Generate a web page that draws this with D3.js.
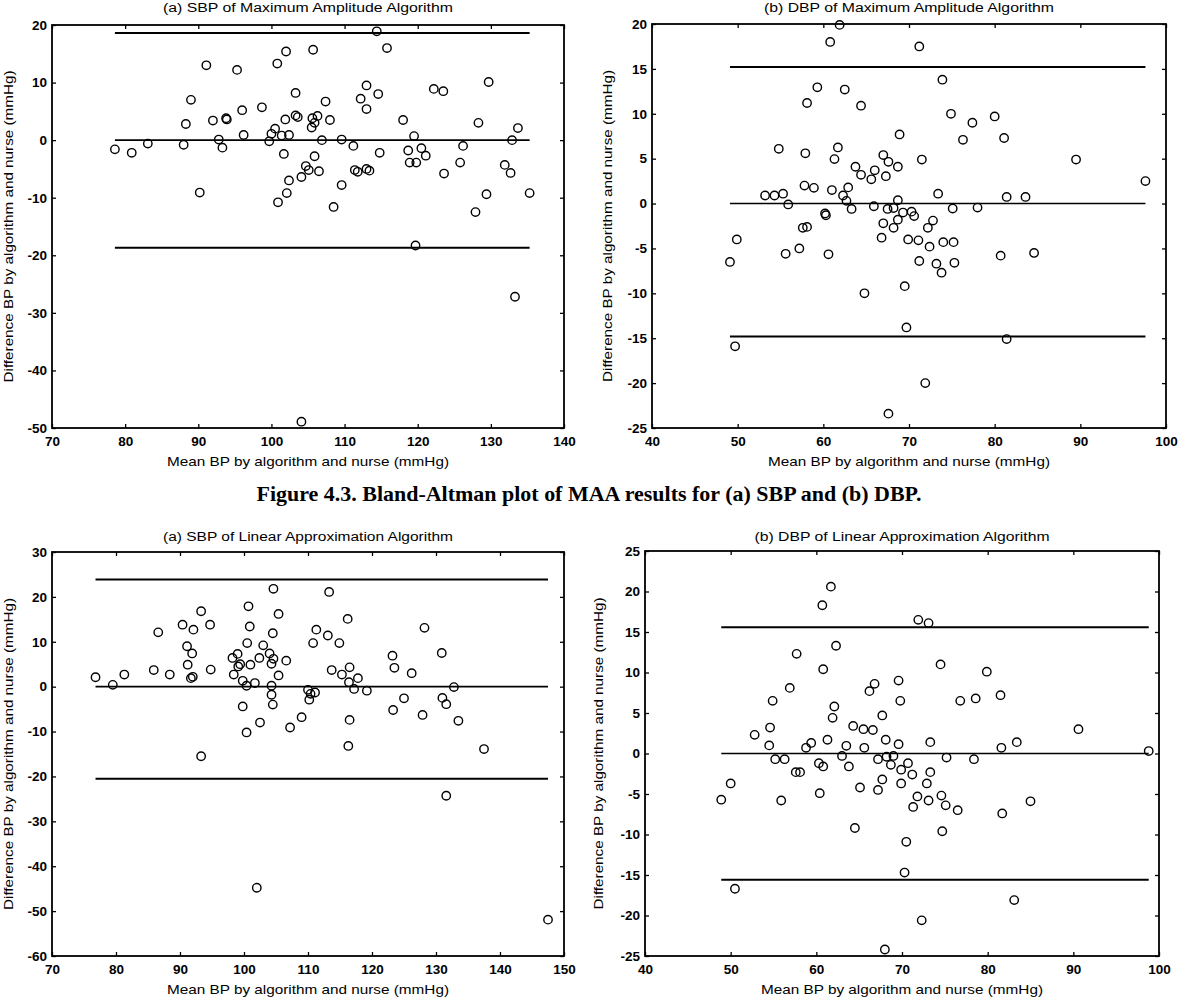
<!DOCTYPE html>
<html><head><meta charset="utf-8">
<script src="https://cdn.jsdelivr.net/npm/d3@7"></script>
<style>body{margin:0;background:#fff}svg{display:block}</style>
</head><body>
<svg id="c" width="1178" height="1000"></svg>
<script>
// ---------- DATA ----------
// (a) SBP of Maximum Amplitude Algorithm
const maaSbpMean = [78.6,80.9,83.1,88.0,88.3,89.0,91.1,90.2,92.0,92.8,93.3,93.8,93.9,95.3,96.0,96.2,98.7,99.7,100.0,100.5,100.8,100.9,101.4,102.0,101.9,101.7,102.1,102.4,102.4,103.3,103.3,103.6,104.1,104.1,104.7,105.1,105.7,105.6,106.3,105.9,105.5,105.9,106.5,106.9,107.4,108.0,108.5,109.6,109.6,111.2,112.2,113.0,113.0,111.4,111.8,113.0,113.4,114.4,114.6,114.8,115.8,118.0,118.7,118.9,119.8,119.5,120.5,121.1,119.7,122.2,123.5,123.6,125.8,126.2,128.3,127.9,129.4,129.7,131.9,132.7,132.9,133.3,133.7,135.3];
const maaSbpDiff = [-1.6,-2.2,-0.6,-0.8,2.8,7.0,13.0,-9.1,3.4,0.1,-1.3,3.8,3.6,12.2,5.2,0.9,5.7,-0.2,1.1,2.0,13.3,-10.8,0.8,15.4,3.6,-2.4,-9.2,-7.0,0.9,8.2,4.3,4.0,-6.4,-48.9,-4.5,-5.2,15.7,3.8,4.2,3.0,2.2,-2.8,-5.4,0.0,6.7,3.5,-11.6,0.1,-7.8,-1.0,7.2,9.5,5.4,-5.2,-5.5,-5.0,-5.3,18.9,8.0,-2.2,16.0,3.5,-1.8,-3.9,-3.9,0.7,-1.4,-2.7,-18.3,8.9,8.5,-5.8,-3.9,-1.0,3.0,-12.5,-9.4,10.1,-4.3,-5.7,0.0,-27.2,2.1,-9.2];
const maaSbpLines = [18.6, 0, -18.7];
const maaSbpXTicks = [70,80,90,100,110,120,130,140];
const maaSbpYTicks = [20,10,0,-10,-20,-30,-40,-50];

// (b) DBP of Maximum Amplitude Algorithm
const maaDbpMean = [49.1,49.9,49.7,53.2,54.3,54.8,55.3,55.6,55.9,57.2,57.6,58.1,57.9,58.1,57.8,58.9,59.3,60.2,60.3,60.6,60.8,61.0,61.3,61.7,61.9,62.3,62.5,62.9,62.7,63.3,63.75,64.4,64.4,64.8,65.6,66.0,65.9,67.0,67.3,67.0,66.8,67.6,67.6,68.7,68.9,71.2,73.9,74.9,77.4,80.0,81.1,76.3,71.5,89.5,97.6,73.4,81.4,83.6,68.7,68.2,67.5,75.1,78.0,69.3,70.3,70.6,68.7,68.2,72.8,72.2,69.9,71.1,72.4,74.0,75.2,71.2,73.2,75.3,73.8,80.7,84.6,69.5,69.7,81.4,71.9];
const maaDbpDiff = [-6.5,-4.0,-15.9,0.9,0.9,6.1,1.1,-5.6,-0.1,-5.0,-2.7,-2.6,5.6,11.2,2.0,1.75,12.95,-1.1,-1.3,-5.65,18.0,1.5,4.95,6.25,19.9,0.9,12.7,1.8,0.3,-0.6,4.1,3.2,10.9,-10.0,2.7,3.7,-0.3,5.4,3.05,-2.2,-3.8,-23.4,4.65,4.1,7.7,17.5,13.8,10.0,9.0,9.7,7.3,7.1,4.9,4.9,2.5,1.1,0.74,0.74,0.37,-0.5,-0.6,-0.56,-0.45,-1.0,-0.9,-1.4,-1.8,-2.7,-1.9,-2.7,-4.0,-4.1,-4.8,-4.3,-4.3,-6.4,-6.7,-6.6,-7.7,-5.8,-5.5,-9.2,-13.8,-15.1,-20.0];
const maaDbpLines = [15.2, 0, -14.8];
const maaDbpXTicks = [40,50,60,70,80,90,100];
const maaDbpYTicks = [20,15,10,5,0,-5,-10,-15,-20,-25];

// (a) SBP of Linear Approximation Algorithm
const laaSbpMean = [76.8,79.5,81.3,85.9,86.6,88.4,90.4,92.1,91.1,91.9,91.2,91.7,92.0,93.3,93.3,94.7,94.8,98.2,99.0,98.4,99.1,99.4,99.8,99.8,100.4,100.7,100.9,100.5,101.0,100.4,101.7,102.0,102.4,102.5,103.0,104.0,104.3,104.6,104.5,104.6,104.3,104.5,104.3,105.4,105.4,106.6,107.2,109.0,110.8,111.3,110.0,110.4,111.1,110.2,113.3,113.1,114.9,116.2,113.7,115.3,116.5,117.8,116.4,117.2,119.2,116.5,116.3,123.2,123.5,126.2,123.3,125.0,127.9,128.2,130.9,131.0,131.6,132.8,131.6,133.5,137.5,147.5];
const laaSbpDiff = [2.1,0.4,2.7,3.7,12.1,2.7,13.8,12.7,9.0,7.4,4.9,1.9,2.2,16.8,-15.5,13.8,3.8,6.4,7.3,2.7,4.5,5.0,1.3,-4.4,0.2,17.9,13.4,9.7,4.9,-10.2,0.8,-44.8,6.4,-8.0,9.2,7.4,5.1,6.2,11.9,21.8,-1.8,-4.0,0.2,16.2,2.5,5.8,-9.1,-6.8,9.7,12.7,-0.7,-1.6,-1.3,-2.9,21.1,11.4,9.7,15.1,3.7,2.7,4.3,1.9,1.0,-0.5,-0.9,-7.4,-13.2,6.9,4.2,3.0,-5.2,-2.6,-6.3,13.1,7.5,-2.5,-3.9,-0.1,-24.3,-7.6,-13.9,-51.9];
const laaSbpLines = [23.9, 0, -20.5];
const laaSbpXTicks = [70,80,90,100,110,120,130,140,150];
const laaSbpYTicks = [30,20,10,0,-10,-20,-30,-40,-50,-60];

// (b) DBP of Linear Approximation Algorithm
const laaDbpMean = [48.9,50.0,50.5,52.8,54.6,54.5,54.9,55.2,56.3,55.9,56.9,57.7,57.6,58.1,58.8,59.4,60.4,60.3,60.8,60.7,60.8,61.7,61.3,61.9,62.1,62.3,63.0,63.5,63.8,64.3,65.1,64.5,65.5,65.6,66.6,66.2,66.8,67.2,67.7,67.7,67.2,68.1,68.0,71.9,73.1,74.5,69.6,79.9,69.8,76.8,78.6,81.5,69.6,73.3,81.6,83.4,90.6,98.8,68.2,69.0,68.7,69.9,70.7,71.2,75.2,78.4,73.3,72.9,69.9,71.8,71.3,73.1,74.6,75.1,76.5,81.7,85.0,74.7,70.5,70.3,83.1,72.3];
const laaDbpDiff = [-5.7,-3.7,-16.7,2.3,3.2,1.0,6.5,-0.7,-0.7,-5.8,8.1,12.3,-2.3,-2.3,0.7,1.3,-4.9,-1.2,-1.6,18.3,10.4,20.6,1.7,4.4,5.8,13.3,-0.3,0.95,-1.6,3.4,-4.2,-9.2,3.0,0.7,2.9,7.7,8.6,-0.7,4.7,-3.2,-4.5,1.7,-24.2,16.5,16.1,11.0,9.0,10.1,6.5,6.5,6.8,7.2,1.15,1.4,0.7,1.4,3.0,0.3,-0.4,-0.3,-1.4,-2.0,-1.2,-2.6,-0.5,-0.7,-2.3,-3.7,-3.7,-5.3,-6.6,-5.8,-5.2,-6.4,-7.0,-7.4,-5.9,-9.6,-10.9,-14.7,-18.1,-20.6];
const laaDbpLines = [15.6, 0, -15.6];
const laaDbpXTicks = [40,50,60,70,80,90,100];
const laaDbpYTicks = [25,20,15,10,5,0,-5,-10,-15,-20,-25];

const xLabel = "Mean BP by algorithm and nurse (mmHg)";
const yLabel = "Difference BP by algorithm and nurse (mmHg)";
const caption = "Figure 4.3. Bland-Altman plot of MAA results for (a) SBP and (b) DBP.";

// ---------- LAYOUT ----------
const panels = [
  {title:"(a) SBP of Maximum Amplitude Algorithm", mean:maaSbpMean, diff:maaSbpDiff, lines:maaSbpLines,
   xTicks:maaSbpXTicks, yTicks:maaSbpYTicks, l:52, t:25, r:564, b:428, titleY:12, titleW:290, xlabY:466, ylabX:13},
  {title:"(b) DBP of Maximum Amplitude Algorithm", mean:maaDbpMean, diff:maaDbpDiff, lines:maaDbpLines,
   xTicks:maaDbpXTicks, yTicks:maaDbpYTicks, l:652, t:24, r:1166, b:428, titleY:12, titleW:290, xlabY:466, ylabX:612},
  {title:"(a) SBP of Linear Approximation Algorithm", mean:laaSbpMean, diff:laaSbpDiff, lines:laaSbpLines,
   xTicks:laaSbpXTicks, yTicks:laaSbpYTicks, l:52, t:552, r:564, b:956, titleY:541, titleW:290, xlabY:994, ylabX:13},
  {title:"(b) DBP of Linear Approximation Algorithm", mean:laaDbpMean, diff:laaDbpDiff, lines:laaDbpLines,
   xTicks:laaDbpXTicks, yTicks:laaDbpYTicks, l:645, t:551, r:1159, b:956, titleY:541, titleW:295, xlabY:994, ylabX:603}
];

const svg = d3.select("#c");
const FONT = "'Liberation Sans', Arial, sans-serif";

function drawPanel(p){
  const g = svg.append("g");
  const xd = d3.extent(p.xTicks), yd = d3.extent(p.yTicks);
  const x = d3.scaleLinear().domain(xd).range([p.l, p.r]);
  const y = d3.scaleLinear().domain(yd).range([p.b, p.t]);
  const fmt = d => String(d);

  const ax = [
    g.append("g").attr("transform",`translate(0,${p.b})`).call(d3.axisBottom(x).tickValues(p.xTicks).tickSize(-4).tickSizeOuter(0).tickPadding(8).tickFormat(fmt)),
    g.append("g").attr("transform",`translate(${p.l},0)`).call(d3.axisLeft(y).tickValues(p.yTicks).tickSize(-4).tickSizeOuter(0).tickPadding(5).tickFormat(fmt)),
    g.append("g").attr("transform",`translate(0,${p.t})`).call(d3.axisTop(x).tickValues(p.xTicks).tickSize(-4).tickSizeOuter(0).tickFormat("")),
    g.append("g").attr("transform",`translate(${p.r},0)`).call(d3.axisRight(y).tickValues(p.yTicks).tickSize(-4).tickSizeOuter(0).tickFormat(""))
  ];
  ax.forEach(a=>{
    a.select(".domain").remove();
    a.selectAll(".tick line").attr("stroke","#000").attr("stroke-width",1.3);
    a.selectAll("text").attr("font-family",FONT).attr("font-size",13.5).attr("font-weight","bold").attr("fill","#000");
  });

  g.append("rect").attr("x",p.l).attr("y",p.t).attr("width",p.r-p.l).attr("height",p.b-p.t)
    .attr("fill","none").attr("stroke","#000").attr("stroke-width",1.8);

  const [mn, mx] = d3.extent(p.mean);
  g.selectAll("line.lim").data(p.lines).join("line").attr("class","lim")
    .attr("x1",x(mn)).attr("x2",x(mx)).attr("y1",d=>y(d)).attr("y2",d=>y(d))
    .attr("stroke","#000").attr("stroke-width",(d,i)=> i===1?1.6:2);

  g.selectAll("circle").data(p.mean.map((m,i)=>[m,p.diff[i]])).join("circle")
    .attr("cx",d=>x(d[0])).attr("cy",d=>y(d[1])).attr("r",4.2)
    .attr("fill","none").attr("stroke","#000").attr("stroke-width",1.4);

  const cx = (p.l+p.r)/2;
  g.append("text").attr("x",cx).attr("y",p.titleY).attr("text-anchor","middle")
    .attr("font-family",FONT).attr("font-size",12.5).attr("textLength",p.titleW).attr("lengthAdjust","spacingAndGlyphs")
    .text(p.title);
  g.append("text").attr("x",cx).attr("y",p.xlabY).attr("text-anchor","middle")
    .attr("font-family",FONT).attr("font-size",13.5).attr("textLength",282).attr("lengthAdjust","spacingAndGlyphs")
    .text(xLabel);
  g.append("text").attr("transform",`translate(${p.ylabX},${(p.t+p.b)/2}) rotate(-90)`).attr("text-anchor","middle")
    .attr("font-family",FONT).attr("font-size",13.5).attr("textLength",312).attr("lengthAdjust","spacingAndGlyphs")
    .text(yLabel);
}
panels.forEach(drawPanel);

svg.append("text").attr("x",589).attr("y",501).attr("text-anchor","middle")
  .attr("font-family","'Liberation Serif','Times New Roman',serif").attr("font-weight","bold").attr("font-size",21)
  .attr("textLength",665).attr("lengthAdjust","spacingAndGlyphs")
  .text(caption);
</script>
</body></html>
